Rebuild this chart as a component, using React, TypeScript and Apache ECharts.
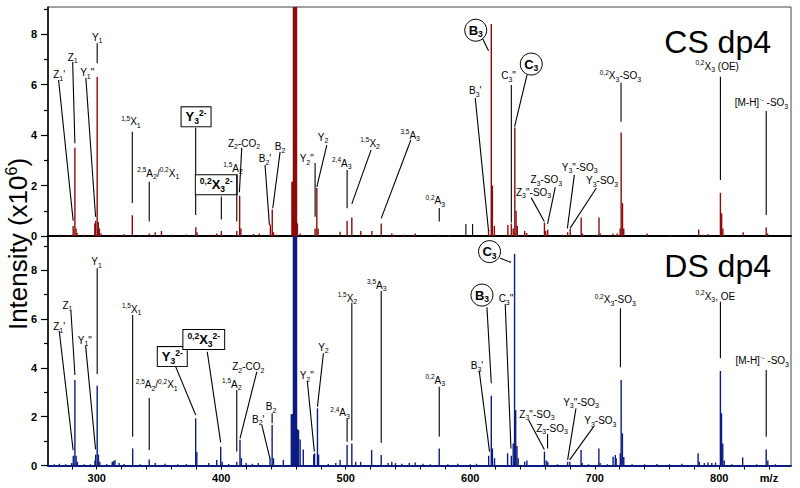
import React, { useEffect, useRef } from 'react';
import * as echarts from 'echarts';

// ---------- axes ----------
const X_MIN = 260.9;
const X_MAX = 857.6;
const CS_Y_MAX = 9.07;
const DS_Y_MAX = 9.4;
const xTickLabels = [300, 400, 500, 600, 700, 800];
const xTicks = [280, 300, 320, 340, 360, 380, 400, 420, 440, 460, 480, 500, 520, 540, 560, 580, 600, 620, 640, 660, 680, 700, 720, 740, 760, 780, 800, 820, 840];
const yTickLabels = [0, 2, 4, 6, 8];
const yMinorTicks = [1, 3, 5, 7, 9];

// ---------- spectra [m/z, intensity x10^6] ----------
const csPeaks: number[][] = [
  [270.5, 0.05], [276, 0.04], [281.1, 0.4], [282.5, 3.5], [283.4, 0.3], [284.3, 0.12], [290, 0.05],
  [298.5, 0.5], [299.2, 0.6], [300.4, 6.3], [301.3, 0.55], [302.2, 0.3], [303.5, 0.1], [313, 0.05],
  [322, 0.07], [328.6, 0.82], [335, 0.04], [342.2, 0.1], [347, 0.15], [352, 0.2], [360, 0.05],
  [372, 0.06], [379.6, 0.35], [380.5, 0.15], [392, 0.05], [396.4, 0.1], [400.1, 0.2], [412.5, 0.2],
  [414.8, 1.6], [415.8, 0.3], [426, 0.08], [430.6, 0.1], [439.5, 0.45], [441, 1.05], [442, 0.15],
  [445, 0.05], [456.8, 2.15], [457.4, 2.15], [458.0, 12], [458.5, 12], [459.0, 12], [459.5, 12],
  [460.0, 12], [460.5, 12], [461.2, 0.5], [463.4, 0.1], [475.4, 0.3], [476.8, 1.9], [477.8, 0.3],
  [490, 0.05], [495.5, 0.17], [501.1, 0.59], [504.9, 0.73], [512.1, 0.2], [521, 0.2], [528.5, 0.5],
  [537, 0.1], [539, 0.05], [547, 0.05], [555.8, 0.1], [575.1, 0.05], [583, 0.04], [614.7, 0.25],
  [616.9, 8.4], [617.8, 2.0], [619.4, 0.4], [630.2, 0.44], [633, 0.5], [634.5, 0.3], [635.8, 4.3],
  [636.8, 1.0], [637.8, 0.4], [643.7, 0.2], [645.3, 0.12], [659.6, 0.53], [660.6, 0.2], [662.2, 0.25],
  [674, 0.05], [678.2, 0.15], [680.3, 0.28], [689.1, 0.73], [690.1, 0.1], [703.4, 0.73], [704.4, 0.1],
  [714.7, 0.1], [718, 0.1], [720.4, 0.3], [721.2, 4.1], [722.3, 1.3], [723.3, 0.3], [742, 0.1],
  [761, 0.04], [783.5, 0.26], [787, 0.05], [791, 0.07], [800.9, 1.71], [801.9, 0.9], [802.9, 0.3],
  [819.2, 0.15], [837.7, 0.34], [838.8, 0.1],
];

const dsPeaks: number[][] = [
  [266, 0.05], [270, 0.07], [275, 0.05], [279.9, 0.1], [281.2, 0.4], [282.5, 3.5], [283.5, 0.4],
  [284.5, 0.15], [290, 0.05], [295, 0.05], [298.6, 0.2], [299.2, 0.45], [300.4, 3.27], [301.4, 0.45],
  [302.5, 0.15], [308, 0.06], [312.5, 0.15], [313.6, 0.18], [314.7, 0.23], [318, 0.1], [322, 0.06],
  [328.9, 0.7], [335, 0.05], [342.2, 0.25], [347, 0.1], [355, 0.07], [365, 0.05], [372, 0.06],
  [379.5, 1.93], [380.4, 0.55], [390, 0.1], [396.4, 0.23], [399.6, 0.77], [400.8, 0.15], [406, 0.06],
  [412.5, 0.15], [415.1, 1.05], [416.2, 0.3], [420, 0.1], [425, 0.07], [429.8, 0.1], [439.2, 0.3],
  [440.9, 1.66], [442, 0.3], [449.9, 0.23], [456.3, 2.1], [456.9, 2.1], [457.5, 2.1], [458.0, 12],
  [458.5, 12], [459.0, 12], [459.5, 12], [460.0, 12], [460.5, 12], [461.1, 1.5], [462.1, 1.45],
  [463.4, 1.07], [465.9, 0.66], [474.3, 0.45], [475, 0.5], [477.3, 2.34], [478.2, 0.45], [486, 0.06],
  [492, 0.1], [495.5, 0.23], [501.1, 0.84], [504.9, 0.9], [508, 0.15], [512, 0.15], [520.8, 0.63],
  [528.5, 0.43], [534, 0.1], [537, 0.15], [540, 0.1], [545, 0.07], [551, 0.1], [555.8, 0.12],
  [562, 0.07], [568, 0.05], [575.1, 0.7], [582, 0.05], [590, 0.07], [600, 0.05], [605, 0.07],
  [614.8, 0.4], [616.9, 2.86], [617.8, 0.7], [619.5, 0.3], [630, 0.5], [633, 0.4], [634.5, 0.9],
  [635.6, 8.67], [636.5, 2.27], [637.5, 0.8], [638.5, 0.3], [643.7, 0.16], [645.5, 0.2], [659.6, 0.57],
  [661, 0.2], [662.3, 0.15], [670, 0.05], [678.2, 0.15], [680, 0.15], [689, 0.63], [690, 0.1],
  [695, 0.05], [703.3, 0.7], [704.3, 0.1], [710, 0.05], [714.7, 0.36], [716.5, 0.43], [717.2, 0.3],
  [720.5, 0.5], [721.2, 3.5], [722.2, 1.32], [723.3, 0.35], [730, 0.05], [740, 0.05], [750, 0.06],
  [760, 0.05], [770, 0.07], [783, 0.5], [784, 0.15], [788, 0.1], [791, 0.12], [794, 0.1], [797, 0.12],
  [800.9, 3.87], [801.8, 2.14], [802.8, 0.9], [804, 0.2], [810, 0.05], [818.8, 0.33], [830, 0.05],
  [837.7, 0.66], [839, 0.2], [845, 0.05],
];

// ---------- annotations: [text, kind, labelX, labelY, lineX1, lineY1, lineX2, lineY2] ----------
type Ann = [string, string, number, number, number, number, number, number];
const csAnnotations: Ann[] = [
  ["Z{b|1}'", 't', 269.9, 6.38, 269.4, 6.18, 281.1, 0.61],
  ['Z{b|1}', 't', 280.7, 7.08, 280.7, 6.89, 282.5, 3.67],
  ['Y{b|1}"', 't', 292.4, 6.47, 291.3, 6.26, 299.1, 0.76],
  ['Y{b|1}', 't', 300.4, 7.87, 300.4, 7.63, 300.4, 6.84],
  ['{p|1,5}X{b|1}', 't', 327.5, 4.53, 328.6, 4.13, 328.6, 1.31],
  ['{p|2,5}A{b|2}/{p|0,2}X{b|1}', 't', 349.5, 2.48, 342.2, 2.15, 342.2, 0.57],
  ['Y{B|3}{S|2-}', 'box', 379.8, 4.72, 379.5, 4.29, 379.5, 0.83],
  ['{P|0,2}X{B|3}{S|2-}', 'box', 396.0, 2.03, 400.1, 1.56, 400.1, 0.65],
  ['{p|1,5}A{b|2}', 't', 409.5, 2.69, 412.5, 2.42, 412.5, 0.57],
  ['Z{b|2}-CO{b|2}', 't', 418.3, 3.68, 416.5, 3.49, 414.6, 1.73],
  ["B{b|2}'", 't', 435.2, 3.05, 435.2, 2.81, 438.7, 0.44],
  ['B{b|2}', 't', 447.3, 3.54, 447.3, 3.33, 441.4, 1.10],
  ['Y{b|2}"', 't', 468.7, 3.05, 475.4, 2.89, 475.4, 0.76],
  ['Y{b|2}', 't', 481.8, 3.92, 484.8, 3.60, 476.8, 1.95],
  ['{p|2,4}A{b|3}', 't', 496.9, 2.89, 501.1, 2.61, 501.1, 1.10],
  ['{p|1,5}X{b|2}', 't', 519.6, 3.68, 520.4, 3.41, 504.9, 1.27],
  ['{p|3,5}A{b|3}', 't', 551.8, 4.00, 552.3, 3.80, 528.5, 0.70],
  ['{p|0,2}A{b|3}', 't', 571.9, 1.39, 575.1, 1.11, 575.1, 0.57],
  ['B{B|3}', 'circle', 604.4, 8.15, 609.4, 7.87, 614.7, 7.34],
  ["B{b|3}'", 't', 604.0, 5.75, 604.0, 5.47, 614.7, 0.20],
  ['C{B|3}', 'circle', 649.0, 6.81, 645.6, 6.38, 635.6, 4.33],
  ['C{b|3}"', 't', 630.8, 6.34, 633.0, 5.98, 633.0, 0.53],
  ['Z{b|3}"-SO{b|3}', 't', 650.9, 1.73, 649.0, 1.51, 659.5, 0.57],
  ['Z{b|3}-SO{b|3}', 't', 661.1, 2.22, 668.3, 1.94, 662.1, 0.48],
  ['Y{b|3}"-SO{b|3}', 't', 687.9, 2.72, 683.6, 2.42, 678.0, 0.30],
  ['Y{b|3}-SO{b|3}', 't', 705.9, 2.19, 701.3, 1.90, 680.1, 0.30],
  ['{p|0,2}X{b|3}-SO{b|3}', 't', 720.6, 6.34, 721.1, 6.07, 721.1, 4.53],
  ['{p|0,2}X{b|3} (OE)', 't', 798.3, 6.73, 800.9, 6.31, 800.9, 2.22],
  ['[M-H]{s|·-} -SO{b|3}', 't', 833.9, 5.28, 837.7, 4.95, 837.7, 0.83],
  ['', 'line', 596.5, 0.48, 596.5, 0.48, 596.5, 0],
  ['', 'line', 601.9, 0.48, 601.9, 0.48, 601.9, 0],
];

const dsAnnotations: Ann[] = [
  ["Z{b|1}'", 't', 269.9, 5.69, 269.9, 5.52, 281.1, 0.63],
  ['Z{b|1}', 't', 276.5, 6.57, 279.3, 6.33, 282.5, 3.71],
  ['Y{b|1}"', 't', 290.5, 5.14, 291.1, 4.91, 299.1, 0.66],
  ['Y{b|1}', 't', 299.9, 8.35, 300.4, 8.08, 300.4, 3.75],
  ['{p|1,5}X{b|1}', 't', 328.1, 6.40, 328.9, 6.16, 328.9, 1.18],
  ['{p|2,5}A{b|2}/{p|0,2}X{b|1}', 't', 348.2, 3.30, 342.2, 2.76, 342.2, 0.63],
  ['Y{B|3}{S|2-}', 'box', 360.7, 4.46, 363.4, 4.05, 379.5, 2.07],
  ['{P|0,2}X{B|3}{S|2-}', 'box', 386.0, 5.16, 388.8, 4.66, 399.6, 0.95],
  ['{p|1,5}A{b|2}', 't', 408.5, 3.33, 412.5, 3.09, 412.5, 0.57],
  ['Z{b|2}-CO{b|2}', 't', 421.8, 4.05, 428.6, 3.84, 415.1, 1.11],
  ["B{b|2}'", 't', 429.8, 1.90, 432.6, 1.66, 439.2, 0.27],
  ['B{b|2}', 't', 440.0, 2.41, 440.9, 2.14, 440.9, 1.73],
  ['Y{b|2}"', 't', 468.7, 3.68, 469.2, 3.43, 474.8, 0.57],
  ['Y{b|2}', 't', 482.1, 4.84, 482.1, 4.60, 477.3, 2.41],
  ['{p|2,4}A{b|3}', 't', 495.5, 2.16, 501.1, 1.93, 501.1, 0.97],
  ['{p|1,5}X{b|2}', 't', 501.4, 6.85, 504.9, 6.67, 504.9, 1.02],
  ['{p|3,5}A{b|3}', 't', 525.0, 7.39, 528.5, 7.15, 528.5, 0.93],
  ['{p|0,2}A{b|3}', 't', 571.9, 3.50, 575.1, 3.23, 575.1, 1.18],
  ['B{B|3}', 'circle', 609.4, 6.98, 613.4, 6.48, 616.9, 3.37],
  ["B{b|3}'", 't', 605.4, 4.08, 607.2, 3.88, 615.5, 0.57],
  ['C{B|3}', 'circle', 615.5, 8.76, 624.1, 8.49, 632.7, 8.32],
  ['C{b|3}"', 't', 628.7, 6.82, 628.1, 6.61, 632.7, 0.70],
  ['Z{b|3}"-SO{b|3}', 't', 653.6, 2.10, 646.9, 1.86, 659.5, 0.66],
  ['Z{b|3}-SO{b|3}', 't', 665.7, 1.52, 662.1, 1.29, 662.1, 0.70],
  ['Y{b|3}"-SO{b|3}', 't', 689.0, 2.59, 684.9, 2.34, 678.2, 0.23],
  ['Y{b|3}-SO{b|3}', 't', 704.5, 1.84, 699.1, 1.59, 679.8, 0.23],
  ['{p|0,2}X{b|3}-SO{b|3}', 't', 716.5, 6.78, 720.6, 6.44, 720.6, 4.02],
  ['{p|0,2}X{b|3}, OE', 't', 796.9, 6.94, 800.9, 6.71, 800.9, 4.39],
  ['[M-H]{s|·-} -SO{b|3}', 't', 834.5, 4.29, 837.7, 3.91, 837.7, 1.18],
];

const FONT = '"Liberation Sans", Arial, Helvetica, sans-serif';
const CS_COLOR = '#8c0b0b';
const DS_COLOR = '#0c1c82';

const rich: any = {
  b: { fontSize: 7, fontFamily: FONT, lineHeight: 8, verticalAlign: 'bottom' },
  s: { fontSize: 7, fontFamily: FONT, lineHeight: 8, verticalAlign: 'top' },
  p: { fontSize: 6.5, fontFamily: FONT, lineHeight: 8, verticalAlign: 'top' },
  B: { fontSize: 8.5, fontFamily: FONT, fontWeight: 'bold', lineHeight: 9, verticalAlign: 'bottom' },
  S: { fontSize: 8.5, fontFamily: FONT, fontWeight: 'bold', lineHeight: 9, verticalAlign: 'top' },
  P: { fontSize: 8.5, fontFamily: FONT, fontWeight: 'bold', lineHeight: 9, verticalAlign: 'top' },
};

function peakSeries(data: number[][], xi: number, yi: number, color: string) {
  return {
    type: 'custom',
    xAxisIndex: xi,
    yAxisIndex: yi,
    data,
    encode: { x: 0, y: 1 },
    z: 2,
    renderItem: (params: any, api: any) => {
      const cs = params.coordSys;
      const p = api.coord([api.value(0), api.value(1)]);
      const b = api.coord([api.value(0), 0]);
      const top = Math.max(p[1], cs.y);
      return {
        type: 'rect',
        shape: { x: p[0] - 0.7, y: top, width: 1.4, height: b[1] - top },
        style: { fill: color },
      };
    },
  };
}

function annSeries(anns: Ann[], xi: number, yi: number) {
  return {
    type: 'custom',
    xAxisIndex: xi,
    yAxisIndex: yi,
    data: anns.map((a) => [a[2], a[3]]),
    encode: { x: 0, y: 1 },
    z: 5,
    clip: false,
    renderItem: (params: any, api: any) => {
      const a = anns[params.dataIndex];
      const [text, kind, lx, ly, x1, y1, x2, y2] = a;
      const p1 = api.coord([x1, y1]);
      const p2 = api.coord([x2, y2]);
      const children: any[] = [
        {
          type: 'line',
          shape: { x1: p1[0], y1: p1[1], x2: p2[0], y2: p2[1] },
          style: { stroke: '#000', lineWidth: 1.1 },
        },
      ];
      if (kind !== 'line') {
        const c = api.coord([lx, ly]);
        if (kind === 'circle') {
          children.push({
            type: 'circle',
            shape: { cx: c[0], cy: c[1], r: 11 },
            style: { fill: '#fff', stroke: '#000', lineWidth: 1 },
          });
        }
        const bold = kind === 'box' || kind === 'circle';
        const style: any = {
          text,
          rich,
          fill: '#000',
          align: 'center',
          verticalAlign: 'middle',
          fontFamily: FONT,
          fontSize: bold ? 13 : 10,
          fontWeight: bold ? 'bold' : 'normal',
          lineHeight: bold ? 17 : 14,
        };
        if (kind === 'box') {
          style.backgroundColor = '#fff';
          style.borderColor = '#000';
          style.borderWidth = 1;
          style.padding = [1, 4, 1, 4];
        }
        children.push({ type: 'text', x: c[0], y: c[1], style });
      }
      return { type: 'group', children };
    },
  };
}

function yAxisPair(gridIndex: number, max: number) {
  return [
    {
      type: 'value',
      gridIndex,
      min: 0,
      max,
      position: 'left',
      axisLine: { show: true, lineStyle: { color: '#000', width: 1.5 } },
      axisTick: { show: true, customValues: yTickLabels, length: 7, lineStyle: { color: '#000', width: 1.2 } },
      axisLabel: {
        customValues: yTickLabels,
        color: '#000',
        fontFamily: FONT,
        fontWeight: 'bold',
        fontSize: 11,
        margin: 11,
      },
      splitLine: { show: false },
    },
    {
      type: 'value',
      gridIndex,
      min: 0,
      max,
      position: 'left',
      axisLine: { show: false },
      axisTick: { show: true, customValues: yMinorTicks, length: 4, lineStyle: { color: '#000', width: 1.2 } },
      axisLabel: { show: false },
      splitLine: { show: false },
    },
  ];
}

export default function App() {
  const ref = useRef<HTMLDivElement>(null);
  useEffect(() => {
    if (!ref.current) return;
    const chart = echarts.init(ref.current, undefined, { renderer: 'svg' });
    const option: any = {
      animation: false,
      backgroundColor: '#fff',
      grid: [
        { left: 48, top: 7, width: 743, height: 229, show: true, borderColor: '#444', borderWidth: 1 },
        { left: 48, top: 236, width: 743, height: 229.5, show: true, borderColor: '#444', borderWidth: 1 },
      ],
      xAxis: [
        {
          type: 'value',
          gridIndex: 0,
          min: X_MIN,
          max: X_MAX,
          axisLine: { show: true, onZero: false, lineStyle: { color: '#000', width: 2 } },
          axisTick: { show: false },
          axisLabel: { show: false },
          splitLine: { show: false },
        },
        {
          type: 'value',
          gridIndex: 1,
          min: X_MIN,
          max: X_MAX,
          axisLine: { show: true, onZero: false, lineStyle: { color: DS_COLOR, width: 2 } },
          axisTick: { show: true, customValues: xTicks, length: 4, lineStyle: { color: '#000', width: 1 } },
          axisLabel: {
            customValues: xTickLabels,
            color: '#000',
            fontFamily: FONT,
            fontWeight: 'bold',
            fontSize: 11,
            margin: 7,
          },
          splitLine: { show: false },
        },
      ],
      yAxis: [...yAxisPair(0, CS_Y_MAX), ...yAxisPair(1, DS_Y_MAX)],
      series: [
        peakSeries(csPeaks, 0, 0, CS_COLOR),
        peakSeries(dsPeaks, 1, 2, DS_COLOR),
        annSeries(csAnnotations, 0, 0),
        annSeries(dsAnnotations, 1, 2),
      ],
      graphic: [
        {
          type: 'text',
          x: 18,
          y: 244,
          rotation: Math.PI / 2,
          style: {
            text: 'Intensity (x10{s|6})',
            rich: { s: { fontSize: 16, fontFamily: FONT, lineHeight: 16, verticalAlign: 'top' } },
            fontFamily: FONT,
            fontSize: 26,
            lineHeight: 30,
            fill: '#000',
            align: 'center',
            verticalAlign: 'middle',
          },
        },
        {
          type: 'text',
          x: 771,
          y: 42,
          style: { text: 'CS dp4', fontFamily: FONT, fontSize: 32, fill: '#000', align: 'right', verticalAlign: 'middle' },
        },
        {
          type: 'text',
          x: 771,
          y: 266,
          style: { text: 'DS dp4', fontFamily: FONT, fontSize: 32, fill: '#000', align: 'right', verticalAlign: 'middle' },
        },
        {
          type: 'text',
          x: 769,
          y: 478,
          style: { text: 'm/z', fontFamily: FONT, fontSize: 11, fontWeight: 'bold', fill: '#000', align: 'center', verticalAlign: 'middle' },
        },
      ],
    };
    chart.setOption(option);
    return () => chart.dispose();
  }, []);
  return <div ref={ref} style={{ width: 800, height: 488, position: 'absolute', left: 0, top: 0 }} />;
}
